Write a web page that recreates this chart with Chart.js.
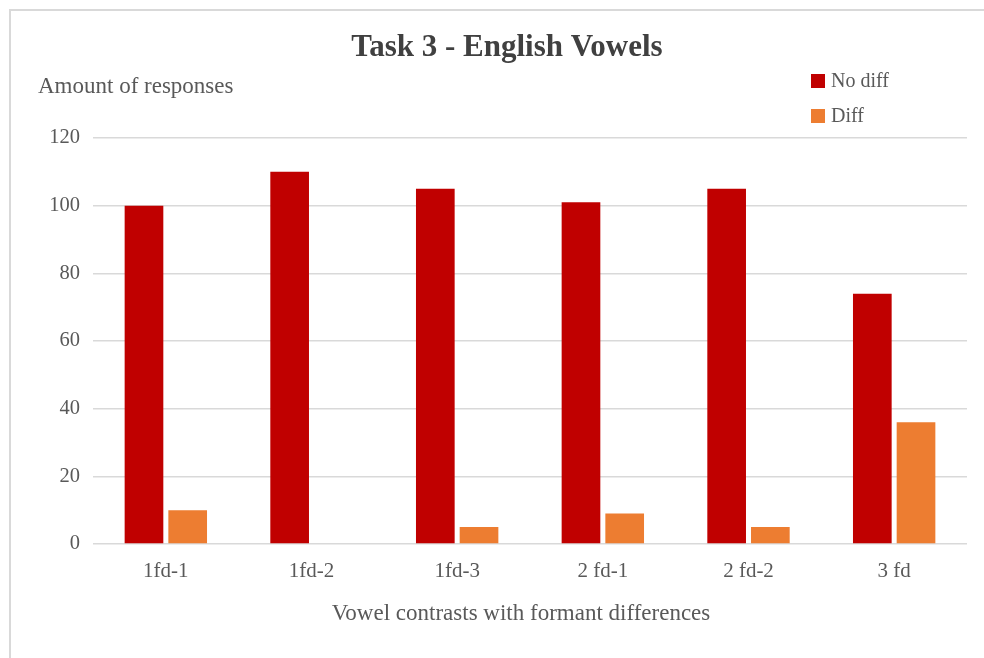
<!DOCTYPE html>
<html>
<head>
<meta charset="utf-8">
<title>Task 3 - English Vowels</title>
<script src="https://cdn.jsdelivr.net/npm/chart.js"></script>
<style>
    html, body { margin: 0; background: #fff; overflow: hidden; }
    #frame {
        position: absolute; left: 9px; top: 9px; width: 973px; height: 647px;
        border-left: 2px solid #d9d9d9; border-top: 2px solid #d9d9d9;
    }
    #chart { position: absolute; left: 0; top: 0; }
</style>
</head>
<body>
<div id="frame"></div>
<canvas id="chart" width="984" height="658"></canvas>
<script>
// Vowel contrast categories and response counts
const categories = ['1fd-1', '1fd-2', '1fd-3', '2 fd-1', '2 fd-2', '3 fd'];
const noDiff = [100, 110, 105, 101, 105, 74];
const diff = [10, 0, 5, 9, 5, 36];
const yTicks = [0, 20, 40, 60, 80, 100, 120];

const SERIF = '"Liberation Serif", "Times New Roman", serif';
const TEXT_GREY = '#595959';

/**
 * Draws the title, both axis titles and the stacked legend
 */
const chartLabels = {
    id: 'chartLabels',
    afterDraw(chart) {
        const ctx = chart.ctx;
        ctx.save();

        ctx.fillStyle = '#404040';
        ctx.font = 'bold 31px ' + SERIF;
        ctx.textAlign = 'center';
        ctx.textBaseline = 'middle';
        ctx.fillText('Task 3 - English Vowels', 507, 48);

        ctx.fillStyle = TEXT_GREY;
        ctx.font = '23px ' + SERIF;
        ctx.textAlign = 'left';
        ctx.fillText('Amount of responses', 38, 87);

        ctx.textAlign = 'center';
        ctx.fillText('Vowel contrasts with formant differences', 521, 614);

        // legend, one entry per row
        ctx.font = '20px ' + SERIF;
        ctx.textAlign = 'left';
        chart.data.datasets.forEach((ds, i) => {
            const y = 81 + i * 35;
            ctx.fillStyle = ds.backgroundColor;
            ctx.fillRect(811, y - 7, 14, 14);
            ctx.fillStyle = TEXT_GREY;
            ctx.fillText(ds.label, 831, y + 1);
        });

        ctx.restore();
    }
};

new Chart(document.getElementById('chart'), {
    type: 'bar',
    data: {
        labels: categories,
        datasets: [
            { label: 'No diff', data: noDiff, backgroundColor: '#c00000' },
            { label: 'Diff', data: diff, backgroundColor: '#ed7d31' }
        ]
    },
    options: {
        responsive: false,
        animation: false,
        categoryPercentage: 0.6,
        barPercentage: 0.885,
        layout: { padding: { top: 138, right: 17, left: 0, bottom: 0 } },
        plugins: {
            legend: { display: false },
            title: { display: false },
            tooltip: { enabled: false }
        },
        scales: {
            x: {
                grid: { display: false },
                border: { display: false },
                ticks: {
                    color: TEXT_GREY,
                    font: { family: SERIF, size: 21 },
                    padding: 7,
                    maxRotation: 0
                },
                afterFit(scale) { scale.height = 114; }
            },
            y: {
                min: 0,
                max: 120,
                afterBuildTicks(scale) {
                    scale.ticks = yTicks.map(v => ({ value: v }));
                },
                grid: { color: '#d9d9d9', lineWidth: 1.5, drawTicks: false },
                border: { display: false },
                ticks: {
                    color: TEXT_GREY,
                    font: { family: SERIF, size: 20.5 },
                    padding: 13
                },
                afterFit(scale) { scale.width = 93; }
            }
        }
    },
    plugins: [chartLabels]
});
</script>
</body>
</html>
